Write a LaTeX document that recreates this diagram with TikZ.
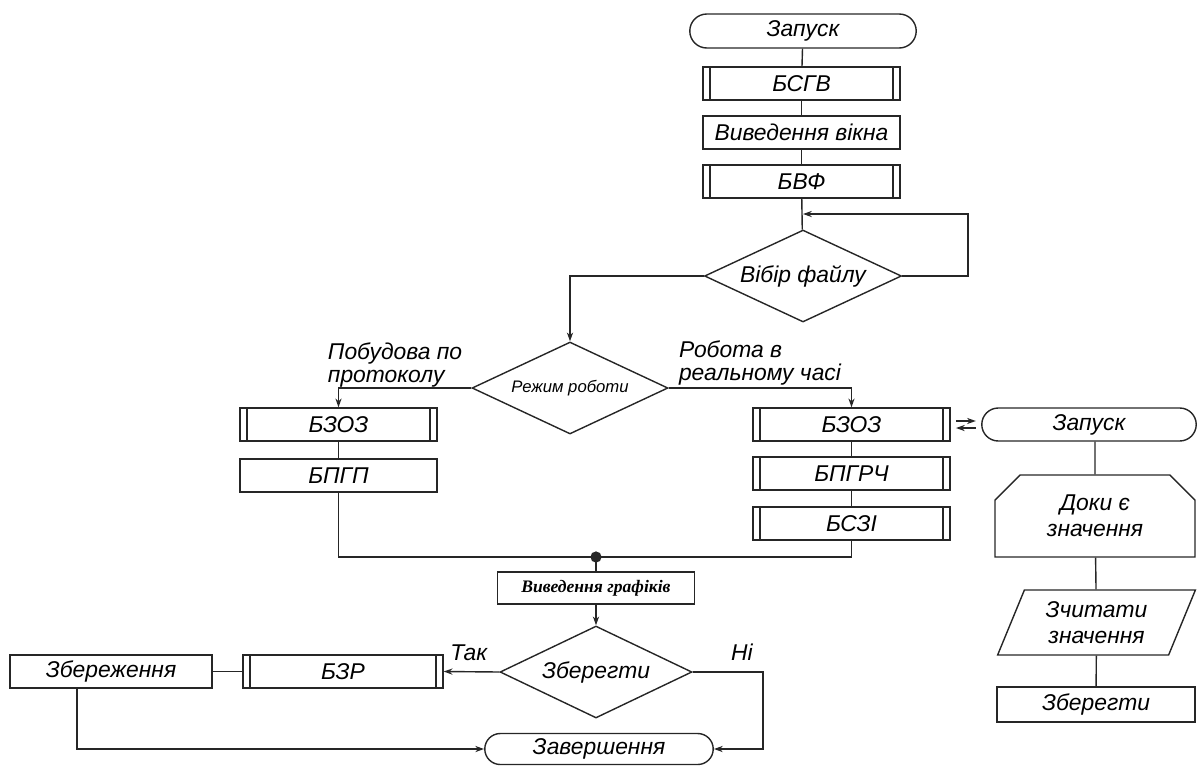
\documentclass[tikz,border=0pt]{standalone}
\usepackage{fontspec}
\setmainfont{Liberation Sans}
\newfontfamily\serifbold{Liberation Serif}
\usepackage{tikz}
\usetikzlibrary{shapes.geometric, shapes.misc, arrows.meta}

\tikzset{
  line/.style={line width=0.8pt, draw=black!85},
  arr/.style={line, -{Stealth[length=5pt,width=3.5pt]}},
  proc/.style={line, rectangle, minimum width=3.94cm, minimum height=0.66cm, inner sep=1pt, font=\fontsize{13}{15}\selectfont\itshape},
  sub/.style={proc, path picture={
      \draw[line] ([xshift=4pt]path picture bounding box.north west) -- ([xshift=4pt]path picture bounding box.south west)
                  ([xshift=-4pt]path picture bounding box.north east) -- ([xshift=-4pt]path picture bounding box.south east);}},
  term/.style={proc, rounded rectangle, minimum width=4.6cm, minimum height=0.68cm},
  decis/.style={proc, diamond, aspect=2.14, minimum width=3.94cm, minimum height=1.84cm, inner sep=0pt},
  lbl/.style={font=\fontsize{13}{13.5}\selectfont\itshape, align=left, inner sep=0pt}
}

\begin{document}
\begin{tikzpicture}[x=0.02cm, y=-0.02cm]
  \useasboundingbox (0,0) rectangle (1200,765);

  % Main chain
  \node[term] (start) at (803,31) {Запуск};
  \node[sub] (bsgv) at (801.5,83.5) {БСГВ};
  \node[proc] (vikno) at (801.5,132.5) {Виведення вікна};
  \node[sub] (bvf) at (801.5,181.5) {БВФ};
  \node[decis] (vybir) at (803,276) {Вібір файлу};
  \coordinate (loopj) at (803,214);
  \coordinate (loopr) at (968,214);

  \draw[line] (start) -- (bsgv);
  \draw[line] (bsgv) -- (vikno);
  \draw[line] (vikno) -- (bvf);
  \draw[line] (bvf) -- (vybir);
  \draw[arr] (vybir.east) -| (loopr) -- (loopj);

  % Mode selection
  \node[decis, minimum width=3.92cm, font=\fontsize{9.5}{11}\selectfont\itshape] (rezhym) at (570,388) {Режим роботи};
  \draw[arr] (vybir.west) -| (rezhym.north);

  \node[lbl] (protlbl) at (395,365) {Побудова по\\протоколу};
  \node[lbl] (reallbl) at (760,363) {Робота в\\реальному часі};

  % Left branch
  \node[sub] (bzozl) at (338.5,424.5) {БЗОЗ};
  \node[proc] (bpgp) at (338.5,475.5) {БПГП};
  \draw[arr] (rezhym.west) -| (bzozl.north);
  \draw[line] (bzozl) -- (bpgp);

  % Right branch
  \node[sub] (bzozr) at (851.5,424.5) {БЗОЗ};
  \node[sub] (bpgrch) at (851.5,473.5) {БПГРЧ};
  \node[sub] (bszi) at (851.5,523.5) {БСЗІ};
  \draw[arr] (rezhym.east) -| (bzozr.north);
  \draw[line] (bzozr) -- (bpgrch);
  \draw[line] (bpgrch) -- (bszi);

  % Join and output
  \coordinate (join) at (596,557);
  \draw[line] (bpgp) |- (join);
  \draw[line] (bszi) |- (join);
  \fill[black!85] (join) circle (3.2pt);

  \node[proc, minimum height=0.64cm, font=\serifbold\fontsize{10}{12}\selectfont\bfseries\itshape] (grafik) at (596,588) {Виведення графіків};
  \draw[line] (join) -- (grafik);

  \node[decis, aspect=2.09, minimum width=3.84cm] (zber) at (596,672) {Зберегти};
  \draw[arr] (grafik) -- (zber);

  \node[sub, minimum width=4cm] (bzr) at (343,671.5) {БЗР};
  \node[proc, minimum width=4.04cm] (zberezh) at (111,671.5) {Збереження};
  \node[term, minimum width=4.64cm, minimum height=0.62cm] (zavers) at (599,749) {Завершення};
  \coordinate (nicorner) at (763,672);

  \draw[arr] (zber.west) -- node[lbl, above=6pt, pos=0.55] (taklbl) {Так} (bzr.east);
  \draw[line] (zberezh) -- (bzr);
  \draw[arr] ([xshift=-0.68cm]zberezh.south) |- (zavers.west);
  \draw[arr] (zber.east) -- node[lbl, above=6pt, pos=0.7] (nilbl) {Ні} (nicorner) |- (zavers.east);

  % Realtime process
  \node[term, minimum width=4.36cm, minimum height=0.66cm] (zapusk) at (1089,424.5) {Запуск};
  \node[proc, chamfered rectangle, chamfered rectangle corners={north west, north east},
        chamfered rectangle xsep=0.2cm, chamfered rectangle ysep=0.3cm,
        minimum width=4cm, minimum height=1.64cm, align=center] (doky) at (1095,516) {Доки є\\значення};
  \node[proc, trapezium, trapezium left angle=67, trapezium right angle=113, trapezium stretches=true,
        minimum width=3.98cm, minimum height=1.3cm, align=center] (zchyt) at (1096.5,622.5) {Зчитати\\значення};
  \node[proc, minimum width=3.96cm, minimum height=0.7cm] (zber2) at (1096,704.5) {Зберегти};

  \draw[line] (zapusk.south -| doky) -- (doky);
  \draw[line] (doky) -- (zchyt);
  \draw[line] (zchyt) -- (zber2);

  \draw[arr, shorten <=3pt, shorten >=3pt] ([yshift=2pt]bzozr.east) -- ([yshift=2pt]zapusk.west);
  \draw[arr, shorten <=3pt, shorten >=3pt] ([yshift=-2pt]zapusk.west) -- ([yshift=-2pt]bzozr.east);
\end{tikzpicture}
\end{document}
